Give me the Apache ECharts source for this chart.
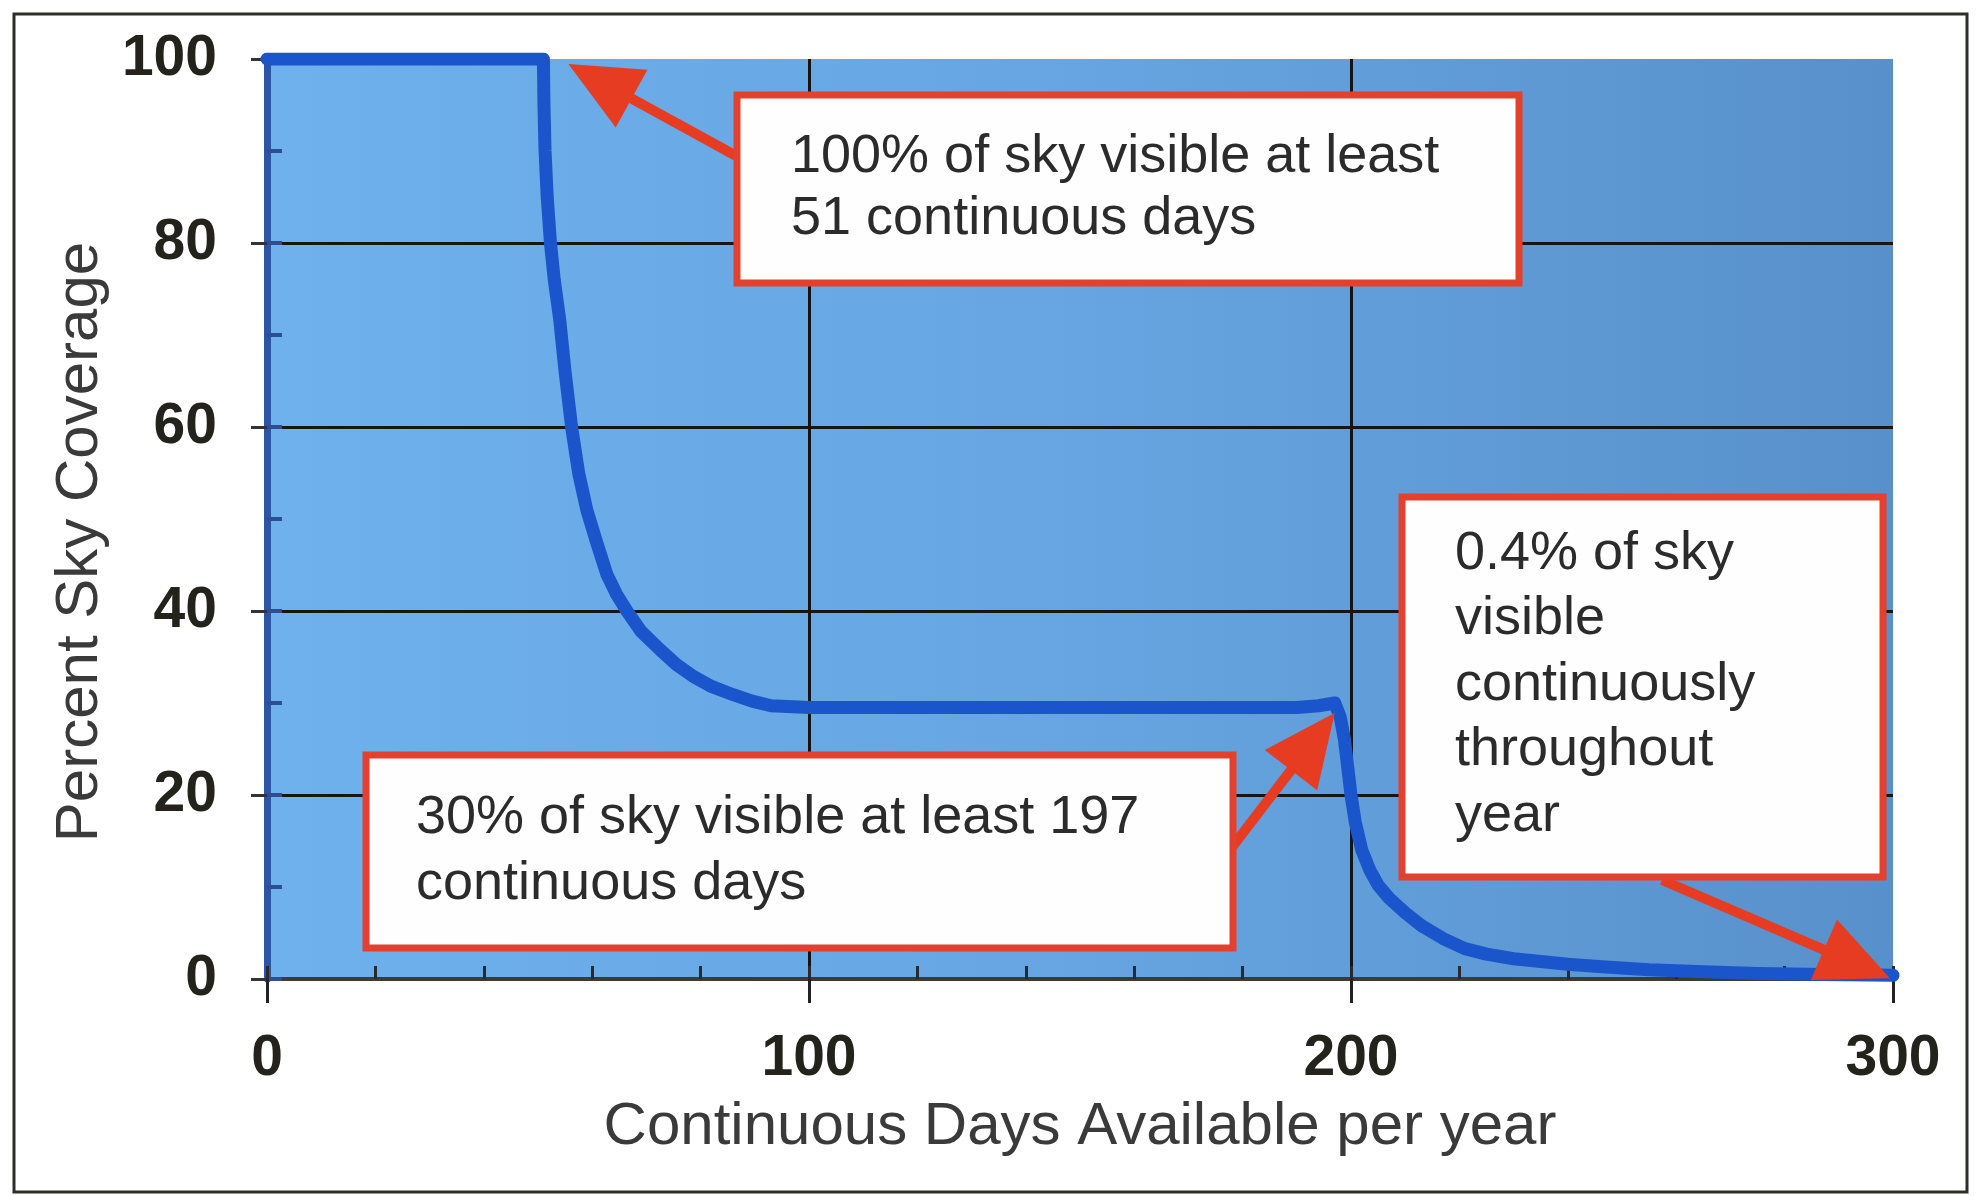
<!DOCTYPE html>
<html>
<head>
<meta charset="utf-8">
<title>Percent Sky Coverage vs Continuous Days</title>
<script src="https://cdn.jsdelivr.net/npm/echarts@6/dist/echarts.min.js"></script>
<style>
  html, body { margin: 0; padding: 0; background: #ffffff; }
  #chart { width: 1976px; height: 1196px; }
</style>
</head>
<body>
<div id="chart"></div>
<script>
// ---- data ----
const xTicks = [0, 100, 200, 300];
const yTicks = [0, 20, 40, 60, 80, 100];

// continuous days available per year (x) and percent of sky covered (y)
const days = [0, 51, 51.1, 51.3, 51.7, 52.3, 53, 54, 55, 56.2, 57.5, 59, 60.8, 62.7,
              64.5, 66.4, 69, 72.5, 75.5, 78.6, 82, 86, 89.5, 93, 100, 130, 160,
              190, 194, 197, 198, 198.8, 199.4, 200, 200.8, 202, 203.5, 205, 207,
              210, 213, 217, 221, 225, 230, 235, 240, 247, 255, 265, 275, 287, 300];
const coverage = [100, 100, 95, 90, 85, 80, 76, 71.7, 66, 60, 55, 51, 47.5, 44,
                  41.8, 40, 37.8, 35.8, 34.2, 32.9, 31.8, 30.9, 30.2, 29.7, 29.5, 29.5, 29.5,
                  29.5, 29.7, 30, 28.5, 26, 23, 20, 17, 14, 11.8, 10.2, 8.8,
                  7.2, 5.8, 4.4, 3.3, 2.7, 2.2, 1.9, 1.6, 1.3, 1.0, 0.8, 0.6, 0.5, 0.4];

// call-out texts and the points they refer to
const noteTop = ['100% of sky visible at least', '51 continuous days'];
const noteTopPoint = [51, 100];
const noteMid = ['30% of sky visible at least 197', 'continuous days'];
const noteMidPoint = [197, 30];
const noteRight = ['0.4% of sky', 'visible', 'continuously', 'throughout', 'year'];
const noteRightPoint = [300, 0.4];

const xTitle = 'Continuous Days Available per year';
const yTitle = 'Percent Sky Coverage';

// ---- chart ----
const chart = echarts.init(document.getElementById('chart'), null, { renderer: 'canvas' });

const seriesData = days.map((d, i) => [d, coverage[i]]);
const tickFont = '"Liberation Sans", Arial, sans-serif';

const option = {
  backgroundColor: '#ffffff',
  animation: false,
  grid: {
    left: 267, right: 83, top: 59, bottom: 217,
    show: true,
    borderWidth: 0,
    backgroundColor: {
      type: 'linear', x: 0, y: 0, x2: 1, y2: 0,
      colorStops: [
        { offset: 0, color: '#6eb1ec' },
        { offset: 0.5, color: '#66a5e1' },
        { offset: 1, color: '#5890cb' }
      ]
    }
  },
  xAxis: [
    {
      type: 'value',
      min: xTicks[0], max: xTicks[xTicks.length - 1], interval: xTicks[1] - xTicks[0],
      name: xTitle, nameLocation: 'middle', nameGap: 118,
      nameTextStyle: { fontFamily: tickFont, fontSize: 60, color: '#3a3a3a' },
      axisLine: { show: true, onZero: false, lineStyle: { color: '#3c3c34', width: 4 } },
      axisTick: { show: true, inside: false, length: 24, lineStyle: { color: '#222', width: 3 } },
      axisLabel: {
        margin: 52, fontFamily: tickFont, fontWeight: 'bold', fontSize: 57, color: '#23231c',
        formatter: v => String(v)
      },
      splitLine: { show: true, showMinLine: false, showMaxLine: false, lineStyle: { color: '#141414', width: 3 } }
    },
    {
      // minor tick marks every 20 days, pointing into the plot
      type: 'value', position: 'bottom',
      min: xTicks[0], max: xTicks[xTicks.length - 1], interval: 20,
      axisLine: { show: false },
      axisTick: { show: true, inside: true, length: 13, lineStyle: { color: '#2a2a2a', width: 3 } },
      axisLabel: { show: false },
      splitLine: { show: false }
    }
  ],
  yAxis: [
    {
      type: 'value',
      min: yTicks[0], max: yTicks[yTicks.length - 1], interval: yTicks[1] - yTicks[0],
      axisLine: { show: true, onZero: false, lineStyle: { color: '#2d55a3', width: 7 } },
      axisTick: { show: true, inside: false, length: 16, lineStyle: { color: '#333', width: 3 } },
      axisLabel: {
        margin: 50, fontFamily: tickFont, fontWeight: 'bold', fontSize: 57, color: '#23231c',
        formatter: v => String(v)
      },
      splitLine: { show: true, showMinLine: false, showMaxLine: false, lineStyle: { color: '#161616', width: 3 } }
    },
    {
      // minor tick marks every 10 percent, pointing into the plot
      type: 'value', position: 'left',
      min: yTicks[0], max: yTicks[yTicks.length - 1], interval: 10,
      axisLine: { show: false },
      axisTick: { show: true, inside: true, length: 15, lineStyle: { color: '#2d4f8f', width: 4 } },
      axisLabel: { show: false },
      splitLine: { show: false }
    }
  ],
  series: [
    {
      type: 'line',
      xAxisIndex: 0, yAxisIndex: 0,
      data: seriesData,
      showSymbol: false,
      smooth: false,
      lineStyle: { color: '#1a55cc', width: 13, cap: 'round', join: 'round' },
      z: 5
    }
  ]
};

chart.setOption(option);

// ---- call-out boxes, arrows and the vertical axis title ----
const RED = '#e63c22';
const BOX_STROKE = '#e3402e';
const TEXT_FONT = '54px "Liberation Sans", Arial, sans-serif';
const TEXT_COLOR = '#2b2b2b';

function px(pt) {
  return chart.convertToPixel({ xAxisIndex: 0, yAxisIndex: 0 }, pt);
}

function arrow(tail, tip, headLen, headW, shaftW) {
  const dx = tip[0] - tail[0], dy = tip[1] - tail[1];
  const L = Math.hypot(dx, dy);
  const ux = dx / L, uy = dy / L;
  const nx = -uy, ny = ux;
  const bx = tip[0] - ux * headLen, by = tip[1] - uy * headLen;
  return [
    {
      type: 'line', z: 50,
      shape: { x1: tail[0], y1: tail[1], x2: bx + ux * 4, y2: by + uy * 4 },
      style: { stroke: RED, lineWidth: shaftW }
    },
    {
      type: 'polygon', z: 50,
      shape: { points: [tip, [bx + nx * headW / 2, by + ny * headW / 2], [bx - nx * headW / 2, by - ny * headW / 2]] },
      style: { fill: RED }
    }
  ];
}

function box(x, y, w, h, lines, textX, firstY, lineGap) {
  const els = [{
    type: 'rect', z: 60,
    shape: { x: x, y: y, width: w, height: h },
    style: { fill: '#fefefe', stroke: BOX_STROKE, lineWidth: 7 }
  }];
  lines.forEach((t, i) => {
    els.push({
      type: 'text', z: 61,
      style: {
        text: t, x: textX, y: firstY + i * lineGap,
        font: TEXT_FONT, fill: TEXT_COLOR,
        textAlign: 'left', textVerticalAlign: 'middle'
      }
    });
  });
  return els;
}

const tipTop = px(noteTopPoint);
const tipMid = px(noteMidPoint);
const tipRight = px(noteRightPoint);

const graphics = [].concat(
  // outer frame
  [{
    type: 'rect', z: 1,
    shape: { x: 14, y: 14, width: 1953, height: 1178 },
    style: { fill: null, stroke: '#2e2e28', lineWidth: 3 }
  }],
  // vertical axis title
  [{
    type: 'text', z: 10,
    x: 80, y: 542, rotation: Math.PI / 2,
    style: {
      text: yTitle, x: 0, y: 0,
      font: '60px "Liberation Sans", Arial, sans-serif', fill: '#3a3a3a',
      textAlign: 'center', textVerticalAlign: 'middle'
    }
  }],
  arrow([740, 158], [tipTop[0] + 25, tipTop[1] + 5], 72, 66, 10),
  arrow([1226, 855], [tipMid[0], tipMid[1] + 10], 72, 66, 10),
  arrow([1662, 880], [tipRight[0] - 3, tipRight[1] + 3], 72, 66, 10),
  box(737, 95, 782, 188, noteTop, 791, 157, 62),
  box(366, 755, 867, 193, noteMid, 416, 818, 66),
  box(1402, 497, 481, 380, noteRight, 1455, 554, 65.5)
);

chart.setOption({ graphic: graphics });
</script>
</body>
</html>
